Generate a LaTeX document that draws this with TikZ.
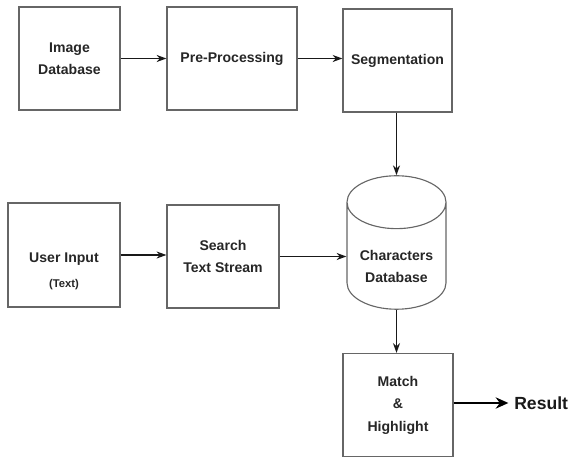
\documentclass[tikz,border=0pt]{standalone}
\usepackage{fontspec}
\setmainfont{Liberation Sans}
\usetikzlibrary{shapes.geometric, positioning, arrows.meta}

\begin{document}
\begin{tikzpicture}[x=0.025cm, y=-0.025cm, >={Stealth[length=7pt, width=5pt]},
    stagebox/.style={draw=black!60, line width=0.8pt, align=center,
        font=\bfseries\fontsize{10}{16}\selectfont, text=black!85, inner sep=0pt,
        minimum height=2.575cm},
    dbstore/.style={cylinder, shape border rotate=90, aspect=0.72,
        draw=black!60, line width=0.8pt, align=center,
        font=\bfseries\fontsize{10}{16}\selectfont, text=black!85, inner sep=0pt},
    flow/.style={->, line width=0.9pt, black!90}]
    \useasboundingbox (0,0) rectangle (570,457);
    % top row
    \node[stagebox, minimum width=2.525cm] (imgdb) at (69.5,58.5) {Image\\Database};
    \node[stagebox, minimum width=3.25cm] (preproc) at (232,58.5) {Pre-Processing};
    \node[stagebox, minimum width=2.725cm] (segment) at (397.5,60.5) {Segmentation};
    % middle row
    \node[stagebox, minimum width=2.8cm, minimum height=2.6cm] (userin) at (64,255)
        {\mbox{}\\[14pt]User Input\\[2pt]{\footnotesize (Text)}};
    \node[stagebox, minimum width=2.8cm] (search) at (223,256.5) {Search\\Text Stream};
    \node[dbstore, minimum width=2.475cm, minimum height=2.6cm] (chardb) at (396.5,256)
        {\mbox{}\\[6pt]Characters\\Database};
    % bottom
    \node[stagebox, minimum width=2.75cm] (match) at (398,405) {Match\\\&\\Highlight};
    \node[anchor=west, font=\bfseries\fontsize{12.5}{15}\selectfont, text=black!90,
        inner sep=0pt] (result) at (514,403) {Result};

    \draw[flow] (imgdb.east) -- (preproc.west);
    \draw[flow] (preproc.east) -- (preproc.east -| segment.west);
    \draw[flow] (segment.south -| chardb.north) -- (chardb.north);
    \draw[flow] (userin.east) -- (userin.east -| search.west);
    \draw[flow] (search.east) -- (search.east -| chardb.west);
    \draw[flow] (chardb.south) -- (chardb.south |- match.north);
    \draw[->, line width=2pt, >={Stealth[length=9pt, width=8pt]}] (match.east |- result.west) -- ([xshift=-4pt]result.west);
\end{tikzpicture}
\end{document}
